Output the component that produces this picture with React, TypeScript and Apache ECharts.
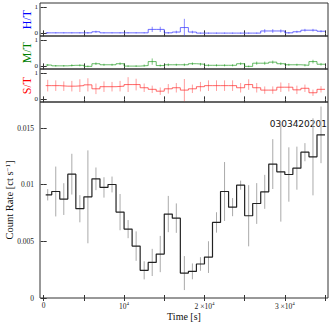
import React, { useEffect, useRef } from "react";
import * as echarts from "echarts";

// ---- data ----
const binCenters = [
  500, 1500, 2500, 3500, 4500, 5500, 6500, 7500, 8500, 9500,
  10500, 11500, 12500, 13500, 14500, 15500, 16500, 17500, 18500, 19500,
  20500, 21500, 22500, 23500, 24500, 25500, 26500, 27500, 28500, 29500,
  30500, 31500, 32500, 33500, 34500,
];
const firstEdge = 250;
const halfWidth = 500;

const rate = [
  0.00911, 0.0094, 0.00873, 0.01093, 0.00788, 0.00893, 0.01052, 0.00976, 0.01002, 0.00758,
  0.00608, 0.00458, 0.00244, 0.00314, 0.00388, 0.00741, 0.00705, 0.0022, 0.00235, 0.003,
  0.00361, 0.00667, 0.0094, 0.00802, 0.00996, 0.00726, 0.00834, 0.00937, 0.01182, 0.01114,
  0.0109, 0.01146, 0.01287, 0.01246, 0.0144,
];
const rateErr = [
  0.0005, 0.0022, 0.0014, 0.0018, 0.0012, 0.0041, 0.001, 0.0009, 0.0007, 0.0016,
  0.0008, 0.0013, 0.0008, 0.0012, 0.0016, 0.0016, 0.0013, 0.0015, 0.0007, 0.0006,
  0.0014, 0.0009, 0.0026, 0.0008, 0.0004, 0.0027, 0.0018, 0.0015, 0.0022, 0.0044,
  0.0024, 0.0019, 0.0008, 0.0034, 0.0025,
];

const hardRatio = [
  0.02, 0.02, 0.02, 0.02, 0.02, 0.02, 0.06, 0.02, 0.02, 0.02,
  0.02, 0.02, 0.02, 0.15, 0.15, 0.02, 0.05, 0.22, 0.05, 0.01,
  0.01, 0.01, 0.01, 0.01, 0.01, 0.01, 0.01, 0.09, 0.09, 0.09,
  0.02, 0.06, 0.12, 0.12, 0.08,
];
const hardErr = [
  0.02, 0.02, 0.02, 0.02, 0.02, 0.03, 0.04, 0.02, 0.02, 0.02,
  0.02, 0.02, 0.02, 0.1, 0.1, 0.03, 0.05, 0.33, 0.05, 0.02,
  0.02, 0.02, 0.02, 0.02, 0.02, 0.02, 0.02, 0.07, 0.07, 0.06,
  0.03, 0.04, 0.05, 0.05, 0.04,
];

const medRatio = [
  0.05, 0.02, 0.02, 0.04, 0.04, 0.0, 0.1, 0.06, 0.06, 0.1,
  0.01, 0.01, 0.03, 0.18, 0.03, 0.06, 0.06, 0.06, 0.1, 0.08,
  0.04, 0.04, 0.04, 0.04, 0.1, 0.0, 0.12, 0.12, 0.16, 0.1,
  0.06, 0.06, 0.04, 0.18, 0.08,
];
const medErr = [
  0.04, 0.03, 0.03, 0.04, 0.04, 0.03, 0.05, 0.04, 0.04, 0.05,
  0.03, 0.03, 0.04, 0.12, 0.04, 0.05, 0.04, 0.05, 0.05, 0.05,
  0.04, 0.04, 0.04, 0.04, 0.05, 0.03, 0.06, 0.06, 0.06, 0.05,
  0.04, 0.04, 0.04, 0.07, 0.05,
];

const softRatio = [
  0.52, 0.52, 0.5, 0.5, 0.52, 0.55, 0.4, 0.48, 0.48, 0.5,
  0.56, 0.56, 0.44, 0.38, 0.31, 0.4, 0.44, 0.35, 0.4, 0.48,
  0.52, 0.52, 0.52, 0.52, 0.44, 0.56, 0.44, 0.35, 0.35, 0.46,
  0.46, 0.36, 0.42, 0.25, 0.38,
];
const softErr = [
  0.22, 0.2, 0.18, 0.2, 0.24, 0.25, 0.2, 0.2, 0.18, 0.2,
  0.28, 0.22, 0.16, 0.14, 0.14, 0.18, 0.18, 0.42, 0.16, 0.18,
  0.2, 0.2, 0.2, 0.2, 0.18, 0.2, 0.18, 0.14, 0.14, 0.18,
  0.16, 0.16, 0.14, 0.12, 0.12,
];

const xTickValues = [0, 5000, 10000, 15000, 20000, 25000, 30000, 35000];
const xLabelValues = [0, 10000, 20000, 30000];
const xLabelTexts = ["0", "10⁴", "2 ×10⁴", "3 ×10⁴"];
const rateTickValues = [0, 0.005, 0.01, 0.015];
const rateTickTexts = ["0", "0.005", "0.01", "0.015"];
const ratioTickValues = [0, 1];
const ratioTickTexts = ["0", "1"];
const obsId = "0303420201";

// ---- layout / style ----
const X_MIN = -460;
const X_MAX = 35370;
const SERIF = "'Liberation Serif', 'DejaVu Serif', serif";
const AXIS_COLOR = "#333";

function stepPoints(vals: number[]) {
  const pts: number[][] = [];
  binCenters.forEach((t, i) => {
    const l = i === 0 ? firstEdge : t - halfWidth;
    const r = t + halfWidth;
    pts.push([l, vals[i]], [r, vals[i]]);
  });
  return pts;
}

function errData(vals: number[], errs: number[]) {
  return binCenters.map((t, i) => [t, vals[i] - errs[i], vals[i] + errs[i]]);
}

function supRich(s: string) {
  const m = s.match(/^(.*)⁴$/);
  if (!m) return s;
  return `{n|${m[1]}}{s|4}`;
}

export default function App() {
  const ref = useRef<HTMLDivElement>(null);

  useEffect(() => {
    if (!ref.current) return;
    const chart = echarts.init(ref.current, null, { renderer: "svg" });

    const grids = [
      { left: 40, right: 4, top: 3, height: 33 },
      { left: 40, right: 4, top: 36, height: 33 },
      { left: 40, right: 4, top: 69, height: 33 },
      { left: 40, right: 4, top: 102, height: 196 },
    ].map((g) => ({
      ...g,
      show: true,
      containLabel: false,
      outerBoundsMode: "none",
      borderColor: AXIS_COLOR,
      borderWidth: 1,
      backgroundColor: "transparent",
    }));

    const xAxes: any[] = [];
    const yAxes: any[] = [];
    for (let i = 0; i < 4; i++) {
      for (const pos of ["bottom", "top"]) {
        const labeled = i === 3 && pos === "bottom";
        xAxes.push({
          type: "value",
          gridIndex: i,
          position: pos,
          min: X_MIN,
          max: X_MAX,
          axisLine: { show: false },
          splitLine: { show: false },
          axisTick: {
            show: true,
            inside: true,
            length: 3,
            customValues: xTickValues,
            lineStyle: { color: AXIS_COLOR, width: 1 },
          },
          axisLabel: labeled
            ? {
                show: true,
                customValues: xLabelValues,
                margin: 3,
                fontFamily: SERIF,
                fontSize: 7.5,
                color: "#222",
                formatter: (v: number) => {
                  const idx = xLabelValues.indexOf(v);
                  return idx >= 0 ? supRich(xLabelTexts[idx]) : "";
                },
                rich: {
                  n: { fontFamily: SERIF, fontSize: 7.5, color: "#222", lineHeight: 10 },
                  s: {
                    fontFamily: SERIF,
                    fontSize: 5,
                    color: "#222",
                    lineHeight: 6,
                    verticalAlign: "top",
                  },
                },
              }
            : { show: false },
          name: labeled ? "Time [s]" : "",
          nameLocation: "middle",
          nameGap: 13,
          nameMoveOverlap: false,
          nameTextStyle: { fontFamily: SERIF, fontSize: 10, color: "#111" },
        });
      }
      const isMain = i === 3;
      const ratioNames = [
        { name: "H/T", color: "#0000ff" },
        { name: "M/T", color: "#008000" },
        { name: "S/T", color: "#ff0000" },
      ];
      for (const pos of ["left", "right"]) {
        const labeled = pos === "left";
        yAxes.push({
          type: "value",
          gridIndex: i,
          position: pos,
          min: isMain ? 0 : -0.1,
          max: isMain ? 0.0173 : 1.15,
          axisLine: { show: false },
          splitLine: { show: false },
          axisTick: {
            show: true,
            inside: true,
            length: 3,
            customValues: isMain ? rateTickValues : ratioTickValues,
            lineStyle: { color: AXIS_COLOR, width: 1 },
          },
          axisLabel: labeled
            ? {
                show: true,
                customValues: isMain ? rateTickValues : ratioTickValues,
                margin: isMain ? 6 : 2,
                fontFamily: SERIF,
                fontSize: isMain ? 7.5 : 7,
                lineHeight: isMain ? 9 : 6,
                color: "#222",
                formatter: (v: number) => {
                  const vals = isMain ? rateTickValues : ratioTickValues;
                  const texts = isMain ? rateTickTexts : ratioTickTexts;
                  const idx = vals.findIndex((x) => Math.abs(x - v) < 1e-9);
                  return idx >= 0 ? texts[idx] : "";
                },
              }
            : { show: false },
          name: labeled
            ? isMain
              ? "Count Rate [ct s{s|−1}]"
              : ratioNames[i].name
            : "",
          nameLocation: "middle",
          nameRotate: 90,
          nameGap: isMain ? 25 : 7,
          nameMoveOverlap: false,
          nameTextStyle: isMain
            ? {
                fontFamily: SERIF,
                fontSize: 10.5,
                color: "#111",
                rich: {
                  s: {
                    fontFamily: SERIF,
                    fontSize: 7,
                    color: "#111",
                    lineHeight: 7,
                    verticalAlign: "top",
                  },
                },
              }
            : { fontFamily: SERIF, fontSize: 12, color: ratioNames[i]?.color },
        });
      }
    }

    const errSeries = (
      idx: number,
      vals: number[],
      errs: number[],
      color: string
    ) => ({
      type: "custom",
      xAxisIndex: idx * 2,
      yAxisIndex: idx * 2,
      clip: true,
      silent: true,
      encode: { x: 0, y: [1, 2] },
      data: errData(vals, errs),
      renderItem: (params: any, api: any) => {
        const x = api.value(0);
        const p1 = api.coord([x, api.value(1)]);
        const p2 = api.coord([x, api.value(2)]);
        return {
          type: "line",
          shape: { x1: p1[0], y1: p1[1], x2: p2[0], y2: p2[1] },
          style: { stroke: color, lineWidth: 1 },
        };
      },
    });

    const stepSeries = (idx: number, vals: number[], color: string, width: number) => ({
      type: "line",
      xAxisIndex: idx * 2,
      yAxisIndex: idx * 2,
      data: stepPoints(vals),
      showSymbol: false,
      symbol: "none",
      silent: true,
      clip: true,
      lineStyle: { color, width },
    });

    chart.setOption({
      animation: false,
      backgroundColor: "#fff",
      grid: grids,
      xAxis: xAxes,
      yAxis: yAxes,
      series: [
        errSeries(0, hardRatio, hardErr, "rgba(60,60,255,0.6)"),
        stepSeries(0, hardRatio, "rgba(60,60,255,0.75)", 1),
        errSeries(1, medRatio, medErr, "rgba(0,140,0,0.5)"),
        stepSeries(1, medRatio, "rgba(0,140,0,0.6)", 1),
        errSeries(2, softRatio, softErr, "rgba(255,40,40,0.45)"),
        stepSeries(2, softRatio, "rgba(255,40,40,0.7)", 1),
        errSeries(3, rate, rateErr, "#aaaaaa"),
        stepSeries(3, rate, "#222222", 1.2),
      ],
      graphic: [
        {
          type: "text",
          right: 5,
          top: 119,
          style: {
            text: obsId,
            fontFamily: "'DejaVu Sans', sans-serif",
            fontSize: 9,
            fill: "#111",
          },
        },
      ],
    });

    return () => chart.dispose();
  }, []);

  return (
    <div
      ref={ref}
      style={{ position: "fixed", left: 0, top: 0, width: 332, height: 332 }}
    />
  );
}
